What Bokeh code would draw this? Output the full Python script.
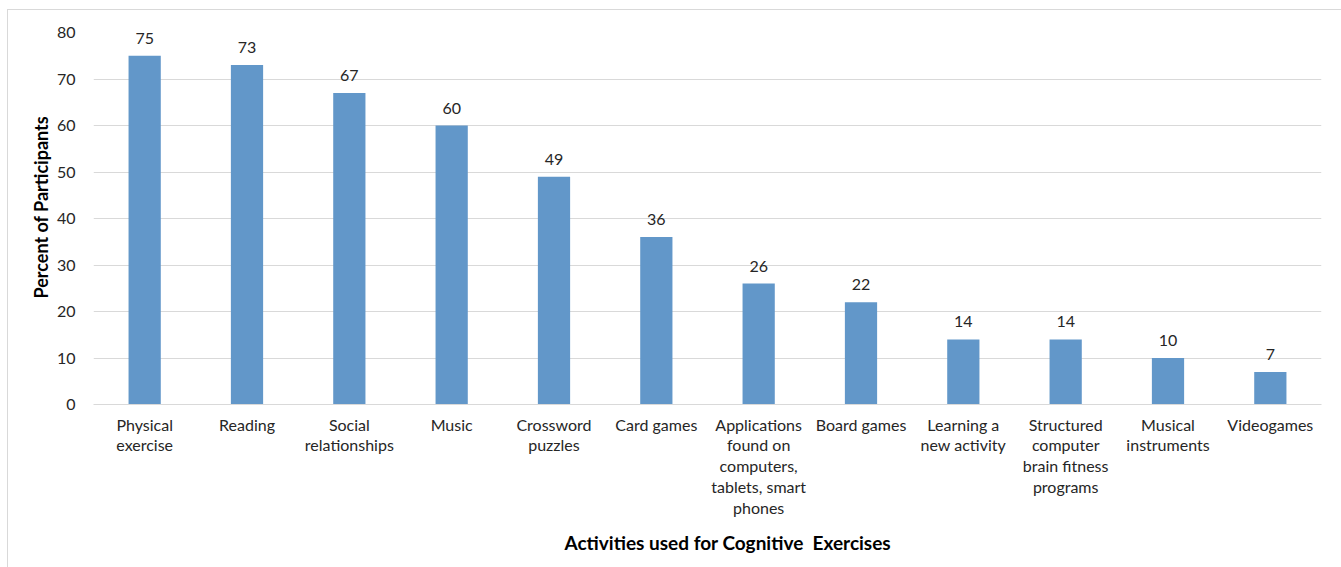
from bokeh.plotting import figure
from bokeh.models import FactorRange, Range1d, ColumnDataSource, LabelSet, Title, SingleIntervalTicker
from bokeh.core.properties import value
from bokeh.embed import file_html
from bokeh.resources import INLINE

# Share of participants using each activity as a cognitive exercise
activities = [
    "Physical\nexercise",
    "Reading",
    "Social\nrelationships",
    "Music",
    "Crossword\npuzzles",
    "Card games",
    "Applications\nfound on\ncomputers,\ntablets, smart\nphones",
    "Board games",
    "Learning a\nnew activity",
    "Structured\ncomputer\nbrain fitness\nprograms",
    "Musical\ninstruments",
    "Videogames",
]
percent = [75, 73, 67, 60, 49, 36, 26, 22, 14, 14, 10, 7]

FONT = "Lato"
TEXT = "#262626"
BAR = "#6297C9"
GRID = "#D9D9D9"

src = ColumnDataSource(data=dict(x=activities, y=percent, lbl=[str(v) for v in percent]))

p = figure(
    x_range=FactorRange(*activities, range_padding=0),
    y_range=Range1d(0, 80),
    width=1334, height=558,
    frame_width=1228, frame_height=372,
    min_border_left=85, min_border_top=22, min_border_right=21, min_border_bottom=164,
    output_backend="svg", toolbar_location=None,
    margin=(9, 0, 0, 7),
    styles={"border-left": "1px solid #D9D9D9", "border-top": "1px solid #D9D9D9"},
)
p.outline_line_color = None
p.background_fill_color = "white"
p.border_fill_color = "white"

p.vbar(x="x", top="y", width=0.315, source=src, fill_color=BAR, line_color=None)

labels = LabelSet(x="x", y="y", text="lbl", source=src, text_align="center",
                  text_baseline="bottom", y_offset=12,
                  text_font=value(FONT), text_font_size="16px", text_color=TEXT)
p.add_layout(labels)

p.yaxis.ticker = SingleIntervalTicker(interval=10)
p.ygrid.grid_line_color = GRID
p.ygrid.grid_line_width = 1
p.xgrid.grid_line_color = None

for ax in (p.xaxis, p.yaxis):
    ax.major_tick_line_color = None
    ax.minor_tick_line_color = None
    ax.major_label_text_font = FONT
    ax.major_label_text_font_size = "16px"
    ax.major_label_text_color = TEXT

p.yaxis.axis_line_color = None
p.yaxis.major_label_standoff = 12

p.xaxis.axis_line_color = GRID
p.xaxis.major_label_standoff = 4
p.xaxis.major_label_text_line_height = 1.1

# axis titles as side titles, so they can be nudged along their axis
ytitle = Title(text="Percent of Participants", align="left", offset=106,
               text_font=FONT, text_font_style="bold", text_font_size="18px",
               text_color="black", standoff=4)
p.add_layout(ytitle, "left")

xtitle = Title(text="Activities used for Cognitive\u00a0 Exercises", align="left", offset=471,
               text_font=FONT, text_font_style="bold", text_font_size="19px",
               text_color="black", standoff=17)
p.add_layout(xtitle, "below")

open("out.html", "w").write(file_html(p, INLINE))
